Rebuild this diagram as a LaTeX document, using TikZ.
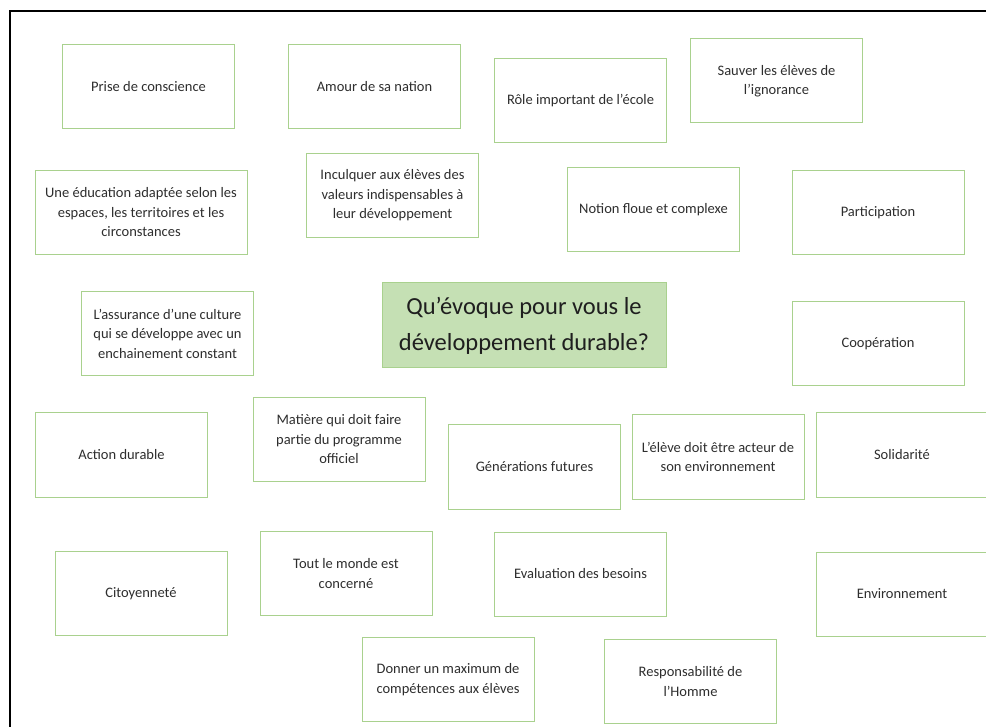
\documentclass[tikz,border=0pt]{standalone}
\usepackage{fontspec}
\setmainfont{Carlito}
\definecolor{boxgreen}{HTML}{A9D18E}
\definecolor{fillgreen}{HTML}{C5E0B4}
\definecolor{txt}{HTML}{2E2E2E}
\begin{document}
\begin{tikzpicture}[x=1pt,y=-1pt,
  idea/.style={draw=boxgreen, line width=1pt, fill=white, minimum width=172pt, minimum height=84pt,
    align=center, text=txt, inner sep=2pt, font=\fontsize{14.5}{19.5}\selectfont},
  question/.style={draw=boxgreen, line width=1pt, fill=fillgreen, minimum width=284pt, minimum height=85pt,
    align=center, text=black!88, inner sep=2pt, font=\fontsize{24.5}{36}\selectfont}]
\useasboundingbox (0,0) rectangle (986,727);
\fill[white] (0,0) rectangle (986,727);
\draw[line width=1.6pt, black] (10,740) -- (10,11) -- (1000,11);

\node[idea] (prise) at (148.5,87) {Prise de conscience};
\node[idea] (amour) at (374.5,87) {Amour de sa nation};
\node[idea] (role) at (580.5,101) {Rôle important de l’école};
\node[idea] (sauver) at (776.5,81) {Sauver les élèves de\\l’ignorance};
\node[idea, minimum width=212pt] (educ) at (141,212.5) {Une éducation adaptée selon les\\espaces, les territoires et les\\circonstances};
\node[idea] (incul) at (392.5,195.5) {Inculquer aux élèves des\\valeurs indispensables à\\leur développement};
\node[idea] (notion) at (653.5,210) {Notion floue et complexe};
\node[idea] (partic) at (878,213) {Participation};
\node[idea] (assur) at (167.5,333.5) {L’assurance d’une culture\\qui se développe avec un\\enchainement constant};
\node[question] (q) at (524,325.5) {Qu’évoque pour vous le\\développement durable?};
\node[idea] (coop) at (878,343.5) {Coopération};
\node[idea] (action) at (121.5,455) {Action durable};
\node[idea] (matiere) at (339,439.5) {Matière qui doit faire\\partie du programme\\officiel};
\node[idea] (gener) at (534.5,467) {Générations futures};
\node[idea] (eleve) at (718,457) {L’élève doit être acteur de\\son environnement};
\node[idea] (solid) at (902,455) {Solidarité};
\node[idea] (citoy) at (141,593.5) {Citoyenneté};
\node[idea] (tout) at (346,573.5) {Tout le monde est\\concerné};
\node[idea] (eval) at (580.5,574) {Evaluation des besoins};
\node[idea] (envir) at (902,594) {Environnement};
\node[idea] (donner) at (448,679.5) {Donner un maximum de\\compétences aux élèves};
\node[idea] (resp) at (690.5,681.5) {Responsabilité de\\l’Homme};
\end{tikzpicture}
\end{document}
